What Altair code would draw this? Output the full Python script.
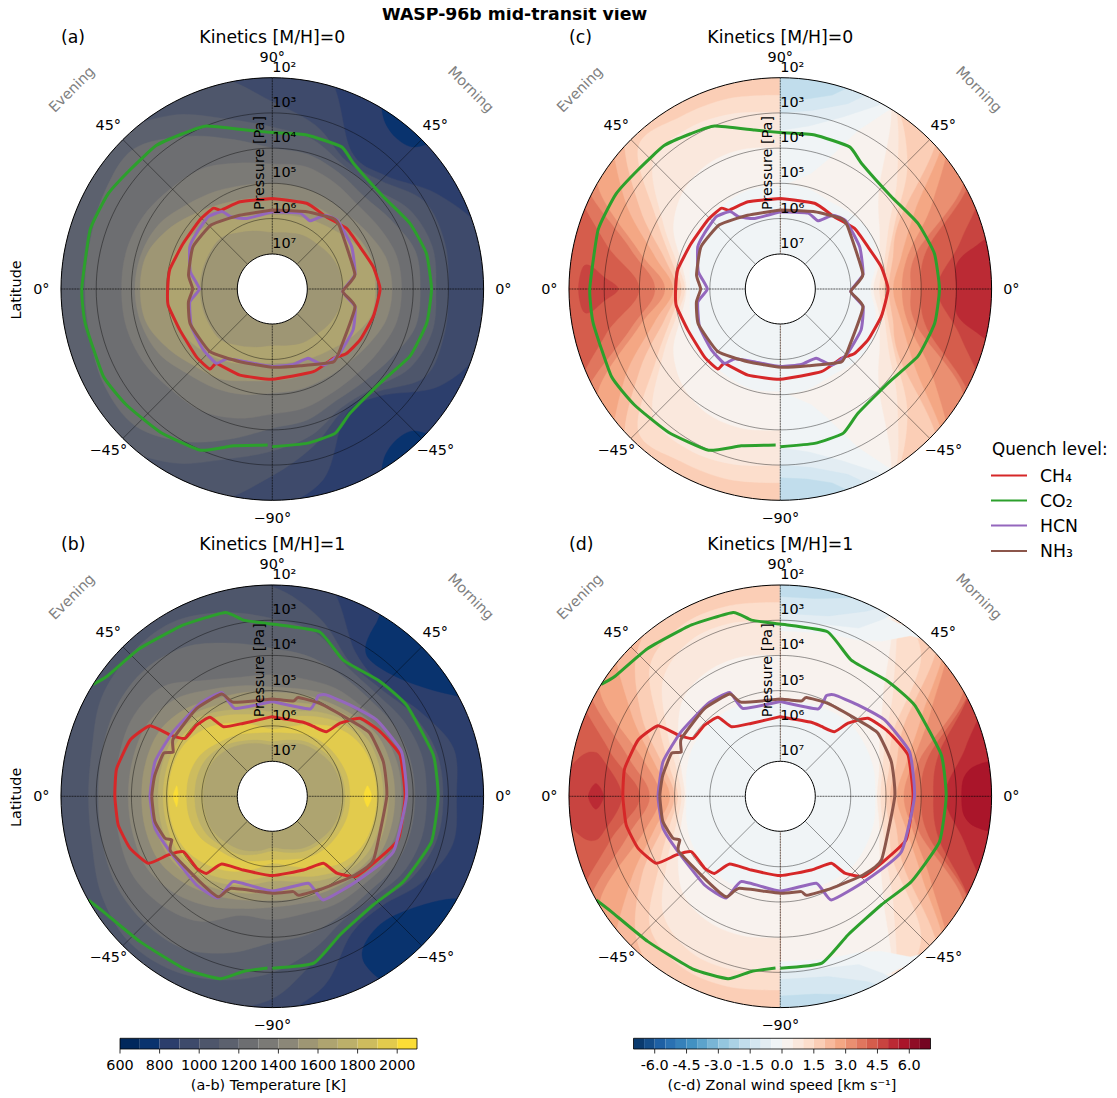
import math
import altair as alt
import pandas as pd

alt.data_transformers.disable_max_rows()

# ---------- layout ----------
W, H = 1101, 1088
CENTERS = {"a": (272.3, 289.0), "b": (272.3, 796.3), "c": (780.3, 289.0), "d": (780.3, 796.3)}
R_RIM, DEC = 211.3, 35.2
FONT = "DejaVu Sans"

# ---------- colours ----------
T_COLORS = ["#01285c", "#09336e", "#2c3e6c", "#3e4a6b", "#4e566b", "#5c616e", "#6d6e71", "#7b7a76",
            "#8b8778", "#9e9674", "#aea470", "#bcb06a", "#cdbc5e", "#e2cb4d", "#fbdd36"]
T_LEVELS = [650 + 100 * i for i in range(15)]
RDBU = ["#053061", "#2166ac", "#4393c3", "#92c5de", "#d1e5f0", "#f7f7f7",
        "#fddbc7", "#f4a582", "#d6604d", "#b2182b", "#67001f"]
W_LEVELS = [-6.75 + 0.5 * i for i in range(28)]


def rdbu(v):
    t = (v + 7) / 14 * 10
    i = min(int(t), 9)
    f = t - i
    a, b = RDBU[i], RDBU[i + 1]
    return "#" + "".join(
        "%02x" % round(int(a[k:k + 2], 16) * (1 - f) + int(b[k:k + 2], 16) * f) for k in (1, 3, 5))


W_COLORS = [rdbu(v) for v in W_LEVELS]
KEYS = [f"T{v}" for v in T_LEVELS] + [f"W{v}" for v in W_LEVELS]
COLS = T_COLORS + W_COLORS
SCALE = alt.Scale(domain=KEYS, range=COLS)

# ---------- temperature contours: log10 P at polar angle 0,15,...,345 deg (clockwise from top) ----------
RIM24 = [1.8] * 24
T_A = [
    (850, RIM24),
    (950, [1.8, 1.8, 3.5, 3.45, 2.6, 1.8, 1.8, 1.8, 2.5, 3.7, 3.85, 2.4, 1.8, 1.8, 1.8, 1.8, 1.8, 1.8, 1.8, 1.8, 1.8, 1.8, 1.8, 1.8]),
    (1050, [2.68, 3.2, 3.8, 3.65, 3.02, 2.93, 3.0, 2.95, 3.0, 3.85, 4.0, 3.4, 2.7, 1.8, 1.8, 1.8, 1.8, 1.8, 1.8, 1.8, 1.8, 1.8, 1.8, 1.8]),
    (1150, [3.4, 3.6, 3.95, 3.95, 3.5, 3.3, 3.35, 3.3, 3.5, 4.0, 4.1, 3.7, 3.4, 3.0, 2.3, 1.8, 1.8, 1.8, 1.8, 1.8, 1.8, 1.8, 2.3, 3.0]),
    (1250, [4.0, 4.05, 4.2, 4.3, 4.1, 3.8, 3.8, 3.8, 4.1, 4.3, 4.35, 4.15, 4.05, 3.6, 3.0, 2.5, 2.5, 2.65, 2.68, 2.65, 2.5, 2.4, 3.0, 3.6]),
    (1350, [4.45, 4.4, 4.5, 4.6, 4.5, 4.35, 4.33, 4.35, 4.5, 4.6, 4.6, 4.5, 4.45, 4.2, 4.0, 3.95, 3.8, 3.72, 3.72, 3.72, 3.8, 3.95, 4.05, 4.3]),
    (1450, [5.0, 5.0, 5.0, 5.0, 4.85, 4.65, 4.6, 4.65, 4.85, 5.0, 5.05, 5.05, 5.05, 4.9, 4.75, 4.6, 4.3, 4.15, 4.1, 4.15, 4.3, 4.6, 4.8, 4.95]),
    (1550, [5.4, 5.4, 5.35, 5.3, 5.15, 5.05, 5.04, 5.05, 5.15, 5.3, 5.4, 5.4, 5.4, 5.3, 5.05, 4.9, 4.6, 4.3, 4.25, 4.3, 4.6, 4.95, 5.2, 5.35]),
    (1650, [5.9, 5.85, 5.75, 5.6, 5.35, 5.1, 5.08, 5.1, 5.35, 5.6, 5.75, 5.85, 5.9, 5.8, 5.6, 5.4, 5.2, 5.0, 5.0, 5.0, 5.2, 5.45, 5.7, 5.85]),
    (1550, [6.4, 6.35, 6.25, 6.2, 6.1, 6.03, 6.03, 6.03, 6.1, 6.2, 6.25, 6.35, 6.4, 6.3, 6.15, 5.95, 5.95, 5.95, 5.95, 5.95, 5.95, 5.95, 6.15, 6.3]),
]
T_B = [
    (850, RIM24),
    (950, [1.8, 1.8, 3.28, 3.55, 3.17, 2.68, 2.77, 2.7, 3.1, 3.6, 3.5, 2.4, 1.8, 1.8, 1.8, 1.8, 1.8, 1.8, 1.8, 1.8, 1.8, 1.8, 1.8, 1.8]),
    (1050, [2.05, 2.77, 3.6, 3.67, 3.38, 3.17, 3.15, 3.17, 3.4, 3.75, 3.7, 3.2, 2.25, 1.8, 1.8, 1.8, 1.8, 1.8, 1.8, 1.8, 1.8, 1.8, 1.8, 1.8]),
    (1150, [2.95, 3.2, 3.75, 3.85, 3.7, 3.6, 3.62, 3.6, 3.7, 3.95, 3.95, 3.5, 3.0, 2.6, 2.3, 2.2, 2.4, 2.7, 2.78, 2.7, 2.4, 2.3, 2.3, 2.6]),
    (1250, [3.8, 3.9, 4.05, 4.1, 4.0, 3.95, 3.95, 3.95, 4.0, 4.15, 4.1, 3.95, 3.85, 3.4, 3.0, 2.9, 2.9, 3.0, 3.06, 3.0, 2.9, 2.9, 3.1, 3.5]),
    (1350, [4.55, 4.55, 4.45, 4.4, 4.25, 4.2, 4.19, 4.2, 4.25, 4.4, 4.45, 4.55, 4.5, 4.5, 3.9, 3.6, 3.45, 3.5, 3.53, 3.5, 3.45, 3.6, 4.2, 4.5]),
    (1450, [4.9, 4.85, 4.7, 4.6, 4.4, 4.33, 4.33, 4.33, 4.4, 4.6, 4.7, 4.85, 4.85, 4.7, 4.4, 4.1, 3.9, 3.9, 3.91, 3.9, 3.9, 4.1, 4.5, 4.75]),
    (1550, [5.05, 5.0, 4.9, 4.75, 4.55, 4.52, 4.52, 4.52, 4.55, 4.75, 4.9, 5.0, 5.05, 4.95, 4.75, 4.5, 4.3, 4.28, 4.29, 4.28, 4.3, 4.5, 4.8, 4.95]),
    (1650, [5.3, 5.25, 5.05, 4.85, 4.7, 4.7, 4.7, 4.7, 4.7, 4.85, 5.05, 5.25, 5.3, 5.15, 4.95, 4.75, 4.6, 4.57, 4.58, 4.57, 4.6, 4.75, 5.0, 5.2]),
    (1750, [5.6, 5.5, 5.25, 5.0, 4.85, 4.85, 4.85, 4.85, 4.85, 5.0, 5.25, 5.5, 5.6, 5.4, 5.15, 4.9, 4.75, 4.75, 4.76, 4.75, 4.75, 4.9, 5.2, 5.45]),
    (1850, [5.75, 5.65, 5.4, 5.12, 5.0, 5.0, 5.0, 5.0, 5.0, 5.12, 5.4, 5.65, 5.75, 5.55, 5.3, 5.05, 4.9, 4.9, 4.9, 4.9, 4.9, 5.05, 5.35, 5.6]),
    (1950, [6.1, 5.95, 5.65, 5.3, 5.1, 5.05, 5.04, 5.05, 5.1, 5.3, 5.65, 5.95, 6.1, 5.85, 5.55, 5.3, 5.1, 5.05, 5.05, 5.05, 5.1, 5.3, 5.6, 5.9]),
    (1850, [6.2, 6.15, 6.0, 5.9, 5.85, 5.8, 5.8, 5.8, 5.85, 5.9, 6.0, 6.15, 6.2, 6.1, 5.95, 5.85, 5.65, 5.57, 5.57, 5.57, 5.65, 5.85, 6.0, 6.15]),
    (1750, [6.45, 6.35, 6.2, 6.1, 6.0, 5.95, 5.94, 5.95, 6.0, 6.1, 6.2, 6.35, 6.45, 6.3, 6.1, 6.0, 5.85, 5.8, 5.8, 5.8, 5.85, 6.0, 6.2, 6.35]),
    (1650, [6.55, 6.45, 6.3, 6.2, 6.1, 6.05, 6.03, 6.05, 6.1, 6.2, 6.3, 6.45, 6.55, 6.4, 6.25, 6.15, 6.05, 6.04, 6.04, 6.04, 6.05, 6.15, 6.3, 6.45]),
]

# ---------- wind contours: log10 P at 0,15,...,180 deg from the top, per hemisphere ----------
RIM13 = [1.8] * 13
WR_C = [
    (4.75, RIM13),
    (4.25, [1.7, 1.7, 1.7, 1.7, 1.3, 2.7, 3.55, 2.7, 1.3, 1.7, 1.7, 1.7, 1.7]),
    (3.75, [1.7, 1.7, 1.7, 1.2, 1.8, 3.7, 4.0, 3.7, 1.8, 1.2, 1.7, 1.7, 1.7]),
    (3.25, [1.7, 1.7, 1.7, 1.2, 2.0, 4.0, 4.3, 4.0, 2.0, 1.2, 1.7, 1.7, 1.7]),
    (2.75, [1.7, 1.7, 1.7, 1.3, 3.0, 4.25, 4.55, 4.25, 3.0, 1.3, 1.7, 1.7, 1.7]),
    (2.25, [1.7, 1.7, 1.7, 1.4, 3.6, 4.45, 4.8, 4.45, 3.6, 1.4, 1.7, 1.7, 1.7]),
    (1.75, [1.7, 1.7, 1.7, 1.7, 4.1, 4.7, 4.93, 4.7, 4.1, 1.7, 1.7, 1.7, 1.7]),
    (1.25, [1.7, 1.7, 1.7, 2.9, 4.25, 4.85, 5.07, 4.85, 4.25, 2.9, 1.7, 1.7, 1.7]),
    (0.75, [1.7, 1.7, 1.7, 3.3, 4.45, 4.95, 5.2, 4.95, 4.45, 3.3, 1.7, 1.7, 1.7]),
    (0.25, [1.7, 1.7, 1.8, 4.05, 4.75, 5.1, 5.36, 5.1, 4.75, 4.05, 1.8, 1.7, 1.7]),
    (-0.25, [5.0, 5.05, 5.15, 5.05, 5.0, 5.2, 5.44, 5.2, 5.0, 5.05, 5.15, 5.05, 5.0]),
]
WL_C = [
    (4.25, RIM13),
    (3.75, [1.7, 1.7, 1.7, 1.7, 1.2, 2.85, 4.0, 2.85, 1.2, 1.7, 1.7, 1.7, 1.7]),
    (3.25, [1.7, 1.7, 1.7, 1.2, 1.5, 3.6, 4.45, 3.6, 1.5, 1.2, 1.7, 1.7, 1.7]),
    (2.75, [1.7, 1.7, 1.7, 1.2, 2.0, 3.85, 4.73, 3.85, 2.0, 1.2, 1.7, 1.7, 1.7]),
    (2.25, [1.7, 1.7, 1.7, 1.4, 2.9, 4.3, 4.96, 4.3, 2.9, 1.4, 1.7, 1.7, 1.7]),
    (1.75, [1.7, 1.7, 1.7, 1.8, 3.4, 4.6, 5.06, 4.6, 3.4, 1.8, 1.7, 1.7, 1.7]),
    (1.25, [2.5, 2.4, 2.35, 2.3, 3.93, 4.8, 5.2, 4.8, 3.93, 2.3, 2.35, 2.4, 2.5]),
    (0.75, [3.0, 2.85, 2.75, 2.9, 4.15, 4.95, 5.3, 4.95, 4.15, 2.9, 2.75, 2.85, 3.0]),
    (0.25, [4.0, 3.9, 3.9, 4.1, 4.5, 5.1, 5.34, 5.1, 4.5, 4.1, 3.9, 3.9, 4.0]),
    (-0.25, [5.1, 5.05, 5.1, 5.15, 5.16, 5.35, 5.44, 5.35, 5.16, 5.15, 5.1, 5.05, 5.1]),
]
WR_D = [
    (5.25, RIM13),
    (4.75, [1.7, 1.7, 1.7, 1.7, 1.2, 2.55, 3.33, 2.55, 1.2, 1.7, 1.7, 1.7, 1.7]),
    (4.25, [1.7, 1.7, 1.7, 1.2, 1.8, 3.35, 3.66, 3.35, 1.8, 1.2, 1.7, 1.7, 1.7]),
    (3.75, [1.7, 1.7, 1.7, 1.2, 1.8, 3.65, 4.0, 3.65, 1.8, 1.2, 1.7, 1.7, 1.7]),
    (3.25, [1.7, 1.7, 1.7, 1.2, 2.0, 3.9, 4.25, 3.9, 2.0, 1.2, 1.7, 1.7, 1.7]),
    (2.75, [1.7, 1.7, 1.7, 1.3, 3.05, 4.1, 4.5, 4.1, 3.05, 1.3, 1.7, 1.7, 1.7]),
    (2.25, [1.7, 1.7, 1.7, 1.4, 3.35, 4.3, 4.7, 4.3, 3.35, 1.4, 1.7, 1.7, 1.7]),
    (1.75, [1.7, 1.7, 1.7, 1.7, 3.95, 4.6, 4.89, 4.6, 3.95, 1.7, 1.7, 1.7, 1.7]),
    (1.25, [1.7, 1.7, 1.7, 2.35, 4.3, 4.8, 5.03, 4.8, 4.3, 2.35, 1.7, 1.7, 1.7]),
    (0.75, [1.7, 1.7, 1.7, 3.45, 4.55, 5.0, 5.16, 5.0, 4.55, 3.45, 1.7, 1.7, 1.7]),
    (0.25, [1.7, 1.7, 1.8, 3.87, 4.75, 5.1, 5.26, 5.1, 4.75, 3.87, 1.8, 1.7, 1.7]),
    (-0.25, [5.3, 5.25, 5.2, 5.15, 5.2, 5.25, 5.31, 5.25, 5.2, 5.15, 5.2, 5.25, 5.3]),
]
WL_D = [
    (4.25, RIM13),
    (3.75, [1.7, 1.7, 1.7, 1.7, 1.3, 2.98, 4.02, 2.98, 1.3, 1.7, 1.7, 1.7, 1.7]),
    (3.25, [1.7, 1.7, 1.7, 1.2, 1.7, 3.5, 4.3, 3.5, 1.7, 1.2, 1.7, 1.7, 1.7]),
    (2.75, [1.7, 1.7, 1.7, 1.2, 2.1, 3.98, 4.58, 3.98, 2.1, 1.2, 1.7, 1.7, 1.7]),
    (2.25, [1.7, 1.7, 1.7, 1.4, 3.08, 4.3, 4.87, 4.3, 3.08, 1.4, 1.7, 1.7, 1.7]),
    (1.75, [1.7, 1.7, 1.7, 2.24, 3.46, 4.55, 5.0, 4.55, 3.46, 2.24, 1.7, 1.7, 1.7]),
    (1.25, [2.5, 2.4, 2.4, 2.77, 4.03, 4.75, 5.1, 4.75, 4.03, 2.77, 2.4, 2.4, 2.5]),
    (0.75, [3.1, 2.9, 2.9, 3.3, 4.3, 4.95, 5.2, 4.95, 4.3, 3.3, 2.9, 2.9, 3.1]),
    (0.25, [4.0, 3.9, 3.9, 4.1, 4.65, 5.1, 5.3, 5.1, 4.65, 4.1, 3.9, 3.9, 4.0]),
    (-0.25, [5.36, 5.25, 5.15, 5.15, 5.15, 5.25, 5.34, 5.25, 5.15, 5.15, 5.15, 5.25, 5.36]),
]

# ---------- small closed patches: (level key, [(polar angle, log10 P), ...]) ----------
PATCH_A = [
    ("T750", [(31, 1.7), (33, 2.2), (39, 2.45), (45, 2.3), (46, 1.7)]),
    ("T750", [(134, 1.7), (135, 2.3), (141, 2.45), (147, 2.2), (149, 1.7)]),
]
PATCH_B = [
    ("T750", [(32, 1.7), (31, 2.3), (32, 3.0), (37, 3.25), (49, 3.0), (60, 2.2), (62, 1.7), (45, 1.6)]),
    ("T750", [(120, 1.7), (121, 2.3), (136, 3.2), (148, 3.05), (151, 2.5), (147, 1.7), (135, 1.6)]),
    ("T2050", [(90, 5.18), (85, 5.25), (84, 5.3), (90, 5.4), (96, 5.3), (95, 5.25)]),
    ("T2050", [(270, 5.19), (265, 5.25), (264, 5.28), (270, 5.33), (276, 5.28), (275, 5.25)]),
]
LENS_C = [
    ("W5.25", [(90, 3.0), (82, 2.94), (78, 2.4), (77, 1.7), (90, 1.5), (103, 1.7), (102, 2.4), (98, 2.94)]),
    ("W4.75", [(270, 2.27), (276, 2.35), (277, 2.56), (274, 2.97), (270, 3.4), (266, 2.97), (263, 2.56), (264, 2.35)]),
]
LENS_D = [
    ("W5.75", [(90, 2.85), (84, 2.75), (81, 2.35), (81.5, 1.7), (90, 1.5), (98.5, 1.7), (99, 2.35), (96, 2.75)]),
    ("W4.75", [(274, 1.7), (281, 2.2), (283.3, 2.54), (281.5, 2.87), (270, 3.5), (258.5, 2.87), (256.7, 2.54), (259, 2.2), (266, 1.7), (270, 1.5)]),
    ("W5.25", [(270, 2.55), (274, 2.75), (270, 2.98), (266, 2.75)]),
]
PATCH_C = [
    ("W-0.25", [(0, 5.1), (15, 4.6), (20, 4.1), (26, 3.0), (31, 2.1), (33, 1.7), (0, 1.7)]),
    ("W-0.75", [(0, 3.5), (10, 3.3), (20, 2.8), (28, 2.1), (30, 1.7), (0, 1.7)]),
    ("W-1.25", [(0, 3.0), (10, 2.85), (20, 2.4), (26, 1.7), (0, 1.7)]),
    ("W-1.75", [(0, 2.64), (8, 2.55), (15, 2.3), (21, 1.7), (0, 1.7)]),
    ("W-0.25", [(180, 5.1), (165, 4.6), (160, 4.1), (154, 3.0), (149, 2.1), (147, 1.7), (180, 1.7)]),
    ("W-0.75", [(180, 3.5), (170, 3.3), (160, 2.8), (152, 2.1), (150, 1.7), (180, 1.7)]),
    ("W-1.25", [(180, 3.0), (170, 2.85), (160, 2.4), (154, 1.7), (180, 1.7)]),
    ("W-1.75", [(180, 2.64), (172, 2.55), (165, 2.3), (159, 1.7), (180, 1.7)]),
]
PATCH_D = [
    ("W-0.25", [(0, 3.3), (15, 3.2), (27, 3.03), (33, 2.75), (39, 2.13), (45, 1.8), (45, 1.7), (0, 1.7)]),
    ("W-0.75", [(0, 3.04), (15, 2.95), (25, 2.73), (30, 2.2), (33, 1.7), (0, 1.7)]),
    ("W-1.25", [(0, 2.8), (15, 2.7), (25, 2.2), (30, 1.7), (0, 1.7)]),
    ("W-1.75", [(0, 2.33), (10, 2.3), (20, 2.0), (24, 1.7), (0, 1.7)]),
    ("W-2.25", [(0, 2.0), (8, 2.0), (16, 1.7), (0, 1.7)]),
    ("W-0.25", [(180, 3.3), (165, 3.2), (153, 3.03), (147, 2.75), (141, 2.13), (135, 1.8), (135, 1.7), (180, 1.7)]),
    ("W-0.75", [(180, 3.04), (165, 2.95), (155, 2.73), (150, 2.2), (147, 1.7), (180, 1.7)]),
    ("W-1.25", [(180, 2.8), (165, 2.7), (155, 2.2), (150, 1.7), (180, 1.7)]),
    ("W-1.75", [(180, 2.33), (170, 2.3), (160, 2.0), (156, 1.7), (180, 1.7)]),
]

# ---------- quench levels (polar angle, log10 P) ----------
CH4_0 = [(0, 5.43), (21.8, 5.38), (36.9, 5.44), (50.8, 5.28), (64.2, 5.24), (77.5, 5.07), (90, 4.94), (105, 5.03),
         (120, 5.12), (131, 5.21), (138.7, 5.38), (153.6, 5.38), (180, 5.44), (200.6, 5.39), (216.8, 5.36),
         (217.9, 5.12), (228, 5.11), (246, 5.13), (261, 5.01), (270, 5.03), (281, 5.04), (297, 5.16),
         (313.6, 5.16), (323.8, 5.16), (327, 5.33), (339.7, 5.36), (360, 5.43)]
CO2_0 = [(180, 3.52), (167.5, 3.51), (156.5, 3.53), (148, 3.84), (131, 3.94), (116, 3.65), (102.5, 3.51), (90, 3.48),
         (77, 3.51), (64.5, 3.67), (50, 3.9), (32.8, 3.75), (26, 3.51), (12.6, 3.52), (0, 3.56), (350.8 - 360, 3.43),
         (338 - 360, 3.01), (330 - 360, 2.91), (321 - 360, 2.76), (310 - 360, 2.73), (300 - 360, 2.61),
         (288 - 360, 2.56), (270 - 360, 2.59), (259.6 - 360, 2.6), (242.6 - 360, 2.6), (231.5 - 360, 2.71),
         (218 - 360, 2.84), (204 - 360, 2.99), (194 - 360, 3.41), (181.7 - 360, 3.57)]
HCN_0 = [(360, 5.81), (340, 5.87), (330, 5.63), (327, 5.38), (318.5, 5.26), (306, 5.33), (297, 5.37), (282, 5.62),
         (270, 5.93), (261, 5.63), (245, 5.47), (228.5, 5.39), (217, 5.36), (213, 5.64), (199, 5.81), (180, 5.8),
         (164.4, 5.78), (152.6, 5.79), (146, 5.4), (135, 5.35), (117, 5.43), (102, 5.6), (92, 6.0), (80, 5.62),
         (62, 5.45), (44, 5.32), (35.4, 5.43), (28.9, 5.79), (20, 5.71), (0, 5.81)]
NH3_0 = [(360, 5.76), (336, 5.71), (316.5, 5.49), (298, 5.45), (279.5, 5.59), (270, 5.74), (261, 5.59), (247, 5.47),
         (225, 5.49), (204, 5.74), (180, 5.78), (160, 5.68), (140, 5.3), (130, 5.45), (102, 5.6), (92, 6.0), (80, 5.62),
         (47, 5.39), (41, 5.35), (24, 5.6), (0, 5.76)]
CH4_1 = [(360, 5.74), (338, 5.77), (325, 5.59), (321.7, 5.14), (313, 5.05), (303.6, 5.03), (301, 4.61), (300, 3.99),
         (291.6, 3.66), (280, 3.51), (270, 3.53), (259.5, 3.55), (250, 3.7), (241.6, 4.0), (240.6, 4.61), (238, 5.03),
         (226.4, 5.04), (220.5, 5.12), (216.7, 5.6), (201.5, 5.75), (180, 5.75), (157, 5.73), (142.7, 5.61), (140, 5.15),
         (134, 4.72), (123.6, 4.56), (109, 4.22), (90, 4.23), (72, 4.19), (59, 4.43), (48.3, 4.67), (42.8, 5.17),
         (40, 5.61), (30.5, 5.7), (22.7, 5.72), (0, 5.74)]
CO2_1A = [(180, 3.12), (166, 3.12), (154, 3.62), (137, 3.79), (123, 3.56), (106, 3.3), (90, 3.29), (75.6, 3.28),
          (55.8, 3.39), (43, 3.53), (27.5, 3.64), (16, 3.14), (0, 3.11), (350.7 - 360, 2.93), (345.6 - 360, 2.61),
          (332.6 - 360, 2.52), (318 - 360, 2.36), (306 - 360, 2.2), (302 - 360, 2.0)]
CO2_1B = [(240.6, 2.0), (235.7, 2.19), (222.3, 2.42), (207, 2.5), (196, 2.61), (189.4, 2.96), (181.6, 3.12)]
HCN_1 = [(360, 5.31), (337, 5.29), (334, 4.72), (322, 4.66), (303, 4.64), (286.5, 4.53), (270, 4.53), (255, 4.55),
         (241.6, 4.7), (220.5, 4.69), (208, 4.73), (204.5, 5.34), (180, 5.31), (157.5, 5.33), (153.8, 4.72), (135, 4.6),
         (114.6, 4.22), (90, 4.19), (71, 4.12), (53.8, 4.33), (40, 4.6), (28, 4.74), (24.6, 4.86), (23.3, 5.3), (0, 5.31)]
NH3_1 = [(360, 5.24), (337.5, 5.11), (333.6, 4.76), (319, 4.71), (300, 4.75), (294, 4.92), (291.5, 4.68), (280, 4.61),
         (270, 4.58), (258, 4.59), (248.6, 4.73), (246.5, 4.89), (241.6, 4.72), (220, 4.82), (208.3, 4.76), (204, 5.14),
         (180, 5.25), (167.6, 5.23), (165, 5.09), (151, 5.01), (133.6, 4.76), (122, 4.61), (90, 4.75), (72.7, 4.7),
         (57, 4.7), (45.5, 4.91), (27, 5.04), (14.8, 5.1), (12.4, 5.23), (0, 5.24)]
LINE_COLORS = {"CH4": "#d62728", "CO2": "#2ca02c", "HCN": "#9467bd", "NH3": "#8c564b"}
QUENCH = {
    0: [("CH4", CH4_0), ("CO2", CO2_0), ("HCN", HCN_0), ("NH3", NH3_0)],
    1: [("CH4", CH4_1), ("CO2", CO2_1A), ("CO2", CO2_1B), ("HCN", HCN_1), ("NH3", NH3_1)],
}


def pos(panel, theta, logp):
    cx, cy = CENTERS[panel]
    r = R_RIM - (logp - 2) * DEC
    a = math.radians(theta)
    return cx + r * math.sin(a), cy - r * math.cos(a)


# ---------- build tables ----------
closed_rows, open_rows, patch_t_rows, patch_w_rows, line_rows = [], [], [], [], []
curve = 0


def add(rows, key, pts, panel):
    global curve
    curve += 1
    for i, (t, p) in enumerate(pts):
        x, y = pos(panel, t, p)
        rows.append({"x": x, "y": y, "key": key, "curve": curve, "i": i})


for panel, table in (("a", T_A), ("b", T_B)):
    for lvl, vals in table:
        add(closed_rows, f"T{lvl}", [(15 * i, v) for i, v in enumerate(vals)], panel)
for panel, right, left in (("c", WR_C, WL_C), ("d", WR_D, WL_D)):
    for side, table in ((1, right), (-1, left)):
        for lvl, vals in table:
            add(open_rows, f"W{lvl}", [(side * 15 * i, v) for i, v in enumerate(vals)], panel)
for panel, patches in (("a", PATCH_A), ("b", PATCH_B), ("c", LENS_C), ("d", LENS_D)):
    for key, pts in patches:
        add(patch_t_rows, key, pts, panel)
for panel, patches in (("c", PATCH_C), ("d", PATCH_D)):
    for key, pts in patches:
        add(patch_w_rows, key, pts, panel)

grid_rows, dotted_rows, ring_rows, hole_rows, mask_rows = [], [], [], [], []
gid = 0
MASK_W = 44
for panel in CENTERS:
    for lp in (3, 4, 5, 6):
        gid += 1
        for i, t in enumerate(range(0, 360, 10)):
            x, y = pos(panel, t, lp)
            grid_rows.append({"x": x, "y": y, "g": gid, "i": i})
    for t in (45, 135, 225, 315):
        gid += 1
        for i, lp in enumerate((2, 7)):
            x, y = pos(panel, t, lp)
            dotted_rows.append({"x": x, "y": y, "g": gid, "i": i, "kind": "diag"})
    for t in (0, 90, 180, 270):
        gid += 1
        for i, lp in enumerate((2, 7)):
            x, y = pos(panel, t, lp)
            dotted_rows.append({"x": x, "y": y, "g": gid, "i": i, "kind": "axis"})
    for i, t in enumerate(range(0, 360, 10)):
        x, y = pos(panel, t, 2)
        ring_rows.append({"x": x, "y": y, "panel": panel, "i": i})
        x, y = pos(panel, t, 2 - (MASK_W / 2 + 0.2) / DEC)
        mask_rows.append({"x": x, "y": y, "panel": panel, "i": i})
        x, y = pos(panel, t, 2 + (R_RIM - 35) / DEC)
        hole_rows.append({"x": x, "y": y, "panel": panel, "i": i})

for panel, met in (("a", 0), ("c", 0), ("b", 1), ("d", 1)):
    for name, pts in QUENCH[met]:
        curve += 1
        for i, (t, p) in enumerate(pts):
            x, y = pos(panel, t, p)
            line_rows.append({"x": x, "y": y, "species": name, "seg": curve, "i": i})

XS = alt.X("x:Q", axis=None, scale=alt.Scale(domain=[8, 8 + W], range=[0, W]))
YS = alt.Y("y:Q", axis=None, scale=alt.Scale(domain=[8, 8 + H], range=[0, H]))
X2 = alt.X2("x2:Q")
Y2 = alt.Y2("y2:Q")


def filled(rows, interp):
    return alt.Chart(pd.DataFrame(rows)).mark_line(interpolate=interp, strokeWidth=0.4).encode(
        x=XS, y=YS,
        color=alt.Color("key:N", scale=SCALE, legend=None),
        fill=alt.Fill("key:N", scale=SCALE, legend=None),
        detail="curve:N",
        order="i:Q",
    )


def outline(rows, group, interp, **kw):
    return alt.Chart(pd.DataFrame(rows)).mark_line(interpolate=interp, **kw).encode(
        x=XS, y=YS, detail=group, order="i:Q")


layers = [filled(closed_rows, "cardinal-closed"), filled(open_rows, "cardinal"),
          filled(patch_t_rows, "cardinal-closed"), filled(patch_w_rows, "linear-closed")]

layers.append(outline(grid_rows, "g:N", "cardinal-closed", stroke="#000000", strokeWidth=0.8, opacity=0.5))
dotted = [r for r in dotted_rows if r["kind"] == "diag"]
axisd = [r for r in dotted_rows if r["kind"] == "axis"]
layers.append(outline(dotted, "g:N", "linear", stroke="#000000", strokeWidth=0.8, opacity=0.5))
layers.append(outline(axisd, "g:N", "linear", stroke="#000000", strokeWidth=0.8, opacity=0.3))
layers.append(outline(axisd, "g:N", "linear", stroke="#000000", strokeWidth=0.8, strokeDash=[1.5, 1.2], opacity=0.6))

line_scale = alt.Scale(domain=list(LINE_COLORS), range=list(LINE_COLORS.values()))
layers.append(alt.Chart(pd.DataFrame(line_rows)).mark_line(
    strokeWidth=3, strokeJoin="round", interpolate="cardinal", tension=0.55).encode(
    x=XS, y=YS, color=alt.Color("species:N", scale=line_scale, legend=None), detail="seg:N", order="i:Q"))

layers.append(alt.Chart(pd.DataFrame(mask_rows)).mark_line(
    interpolate="cardinal-closed", stroke="white", strokeWidth=MASK_W).encode(x=XS, y=YS, detail="panel:N", order="i:Q"))
layers.append(alt.Chart(pd.DataFrame(hole_rows)).mark_line(
    interpolate="cardinal-closed", stroke="black", strokeWidth=1, fill="white").encode(
    x=XS, y=YS, detail="panel:N", order="i:Q"))
layers.append(alt.Chart(pd.DataFrame(ring_rows)).mark_line(
    interpolate="cardinal-closed", stroke="black", strokeWidth=1).encode(x=XS, y=YS, detail="panel:N", order="i:Q"))

# ---------- colour bars ----------
CB_Y0, CB_Y1, CB_TICK = 1038.3, 1049.0, 1053.5
TX0, TX1, WX0, WX1 = 120.0, 417.0, 633.5, 930.5


def tx(v):
    return TX0 + (v - 600) / 1500 * (TX1 - TX0)


def wx(v):
    return WX0 + (v + 7) / 14 * (WX1 - WX0)


bar_rows = [{"x": tx(v - 50), "x2": tx(v + 50), "y": CB_Y0, "y2": CB_Y1, "key": f"T{v}"} for v in T_LEVELS]
bar_rows += [{"x": wx(v - 0.25), "x2": wx(v + 0.25), "y": CB_Y0, "y2": CB_Y1, "key": f"W{v}"} for v in W_LEVELS]
layers.append(alt.Chart(pd.DataFrame(bar_rows)).mark_rect().encode(
    x=XS, x2=X2, y=YS, y2=Y2, color=alt.Color("key:N", scale=SCALE, legend=None)))
frame = pd.DataFrame([{"x": TX0, "x2": TX1, "y": CB_Y0, "y2": CB_Y1}, {"x": WX0, "x2": WX1, "y": CB_Y0, "y2": CB_Y1}])
layers.append(alt.Chart(frame).mark_rect(fillOpacity=0, stroke="black", strokeWidth=0.8).encode(x=XS, x2=X2, y=YS, y2=Y2))
T_TICKS = [600, 800, 1000, 1200, 1400, 1600, 1800, 2000]
W_TICKS = [-6.0, -4.5, -3.0, -1.5, 0.0, 1.5, 3.0, 4.5, 6.0]
tick_rows = [{"x": tx(v), "y": CB_Y1, "y2": CB_TICK} for v in T_TICKS] + [{"x": wx(v), "y": CB_Y1, "y2": CB_TICK} for v in W_TICKS]
layers.append(alt.Chart(pd.DataFrame(tick_rows)).mark_rule(color="black", strokeWidth=0.8).encode(x=XS, y=YS, y2=Y2))

# ---------- legend lines ----------
LEG = [("CH4", "CH₄", 475.5), ("CO2", "CO₂", 500.5), ("HCN", "HCN", 525.5), ("NH3", "NH₃", 551.0)]
leg_rows = []
for name, _, y in LEG:
    leg_rows += [{"x": 991, "y": y, "species": name, "i": 0}, {"x": 1027, "y": y, "species": name, "i": 1}]
layers.append(alt.Chart(pd.DataFrame(leg_rows)).mark_line(strokeWidth=2).encode(
    x=XS, y=YS, color=alt.Color("species:N", scale=line_scale, legend=None), order="i:Q"))

# ---------- text ----------
texts = []
SMALL, BIG = 14.4, 17.3


def T(text, x, y, size=SMALL, align="center", angle=0, color="black", weight="normal"):
    texts.append(dict(text=text, x=x, y=y + 1, size=size, align=align, angle=angle, color=color, weight=weight))


SUPS = {2: "10²", 3: "10³", 4: "10⁴", 5: "10⁵", 6: "10⁶", 7: "10⁷"}
for panel, letter, title in (("a", "(a)", "Kinetics [M/H]=0"), ("c", "(c)", "Kinetics [M/H]=0"),
                             ("b", "(b)", "Kinetics [M/H]=1"), ("d", "(d)", "Kinetics [M/H]=1")):
    cx, cy = CENTERS[panel]
    T(title, cx, cy - 252, BIG)
    T(letter, cx - 211.3, cy - 252, BIG, align="left")
    T("Evening", cx - 200, cy - 200, SMALL, angle=315, color="gray")
    T("Morning", cx + 198, cy - 200, SMALL, angle=45, color="gray")
    T("90°", cx, cy - 232)
    T("−90°", cx, cy + 229)
    T("45°", cx - 164, cy - 164)
    T("45°", cx + 163, cy - 164)
    T("−45°", cx - 164, cy + 161)
    T("−45°", cx + 163, cy + 161)
    T("0°", cx - 231, cy)
    T("0°", cx + 231, cy)
    for k, s in SUPS.items():
        T(s, cx, cy - (R_RIM - (k - 2) * DEC) - 11, align="left")
    T("Pressure [Pa]", cx - 12, cy - 127, angle=270)
for panel in ("a", "b"):
    T("Latitude", 17, CENTERS[panel][1], angle=270)
T("WASP-96b mid-transit view", 514.5, 14, BIG, weight="bold")
for v in T_TICKS:
    T(str(v), tx(v), 1065)
for v in W_TICKS:
    T(f"{v:.1f}", wx(v), 1065)
T("(a-b) Temperature [K]", 268.5, 1085)
T("(c-d) Zonal wind speed [km s⁻¹]", 782, 1085)
T("Quench level:", 992, 449, 16.8, align="left")
for _, lab, y in LEG:
    T(lab, 1040, y, BIG, align="left")

tdf = pd.DataFrame(texts)
for (align, weight), sub in tdf.groupby(["align", "weight"]):
    layers.append(alt.Chart(sub).mark_text(align=align, baseline="middle", font=FONT, fontWeight=weight).encode(
        x=XS, y=YS, text="text:N",
        size=alt.Size("size:Q", scale=None, legend=None),
        angle=alt.Angle("angle:Q", scale=None),
        color=alt.Color("color:N", scale=None, legend=None),
    ))

chart = alt.layer(*layers).resolve_scale(color="independent").properties(
    width=W, height=H, padding=0, autosize=alt.AutoSizeParams(type="none")
).configure_view(stroke=None)

chart.save("out.html", embed_options={"renderer": "svg", "actions": False})
